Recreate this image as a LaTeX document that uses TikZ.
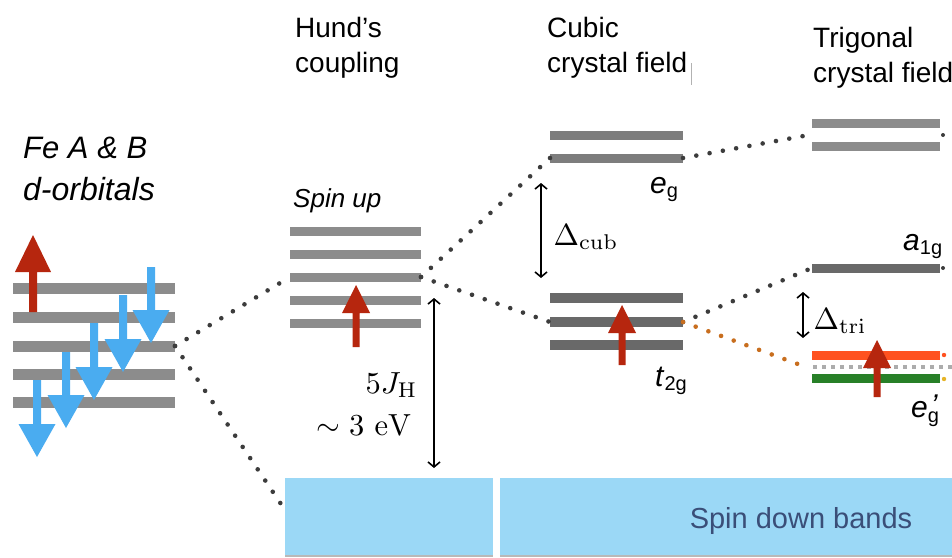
\documentclass[tikz,border=0pt]{standalone}
\usepackage[no-math]{fontspec}
\newfontfamily\hel{Liberation Sans}
\usetikzlibrary{arrows.meta}
\definecolor{barg}{RGB}{140,140,140}
\definecolor{barm}{RGB}{125,125,125}
\definecolor{bard}{RGB}{105,105,105}
\definecolor{spinred}{RGB}{182,38,14}
\definecolor{spinblue}{RGB}{74,172,240}
\definecolor{bandblue}{RGB}{155,216,246}
\definecolor{bandtext}{RGB}{58,78,120}
\definecolor{dotc}{RGB}{60,60,60}
\definecolor{dotorange}{RGB}{200,110,30}
\definecolor{egred}{RGB}{255,82,32}
\definecolor{eggreen}{RGB}{40,128,40}
\definecolor{dotyellow}{RGB}{230,180,40}
\newcommand{\blockarrow}[7]{%
  \fill[#7] (#1-#5/2,#2) -- (#1-#5/2,#3) -- (#1-#6/2,#3) -- (#1,#4) -- (#1+#6/2,#3) -- (#1+#5/2,#3) -- (#1+#5/2,#2) -- cycle;}
\begin{document}
\begin{tikzpicture}[x=1pt,y=-1pt,
  bar/.style={rectangle, inner sep=0pt, outer sep=0pt, minimum height=10pt, fill=barg},
  band/.style={rectangle, inner sep=0pt, outer sep=0pt, fill=bandblue, anchor=north west},
  dotline/.style={line width=4.6pt, line cap=round, dash pattern=on 0pt off 13.5pt, dotc},
  title/.style={font=\hel\fontsize{28}{30}\selectfont, inner sep=0pt, anchor=base west},
  lbl/.style={font=\hel\fontsize{30}{32}\selectfont, inner sep=0pt, anchor=base west},
  mlbl/.style={scale=3.05, inner sep=0pt},
  gap/.style={{Straight Barb[length=5pt,width=12pt,line width=1.6pt]}-{Straight Barb[length=5pt,width=12pt,line width=1.6pt]}, line width=1.6pt, black}]
\useasboundingbox (0,0) rectangle (952,557);
\fill[white] (0,0) rectangle (952,557);

% titles
\node[title, font=\hel\itshape\fontsize{31}{34}\selectfont] (fe) at (23,158) {Fe A \& B};
\node[title, font=\hel\itshape\fontsize{32}{34}\selectfont] (dorb) at (23,200) {d-orbitals};
\node[title] (hund1) at (295,37) {Hund’s};
\node[title] (hund2) at (295,72) {coupling};
\node[title] (cub1) at (547,37) {Cubic};
\node[title] (cub2) at (547,72) {crystal field};
\draw[gray!60, line width=0.8pt] (691,63) -- (691,85);
\node[title] (tri1) at (813,47) {Trigonal};
\node[title] (tri2) at (813,82) {crystal field};
\node[title, font=\hel\itshape\fontsize{26}{28}\selectfont] (spinup) at (293,207) {Spin up};

% spin down bands
\node[band, minimum width=208pt, minimum height=79pt] (bandL) at (285,478) {};
\node[band, minimum width=452pt, minimum height=79pt] (bandR) at (500,478) {};
\fill[gray!55] (285,555) rectangle (493,557);
\fill[gray!55] (500,555) rectangle (952,557);
\node[font=\hel\fontsize{29}{30}\selectfont, text=bandtext, inner sep=0pt, anchor=base] (sdb) at (801,528) {Spin down bands};

% left d-orbitals
\foreach \i/\y in {1/288,2/317,3/346,4/374,5/402}
  \node[bar, minimum width=162pt, minimum height=11pt] (L\i) at (94,\y) {};
\blockarrow{33}{312}{272}{235}{8}{36}{spinred}
\blockarrow{37}{380}{424}{457}{8}{37}{spinblue}
\blockarrow{66}{352}{395}{428}{8}{37}{spinblue}
\blockarrow{94}{323}{367}{400}{8}{37}{spinblue}
\blockarrow{123}{295}{339}{372}{8}{37}{spinblue}
\blockarrow{151}{267}{310}{343}{8}{37}{spinblue}

% Hund's
\foreach \i/\y in {1/231,2/254,3/277,4/300,5/323}
  \node[bar, minimum width=131pt, minimum height=9pt] (H\i) at (355.5,\y) {};
\blockarrow{356}{347}{313}{285}{7}{28}{spinred}

% cubic
\node[bar, fill=barm, minimum width=133pt, minimum height=9pt] (E1) at (616.5,135) {};
\node[bar, fill=barm, minimum width=133pt, minimum height=9pt] (E2) at (616.5,158) {};
\foreach \i/\y in {1/298,2/322,3/345}
  \node[bar, fill=bard, minimum width=133pt, minimum height=10pt] (T\i) at (616.5,\y) {};
\blockarrow{622}{365}{333}{305}{7}{28}{spinred}

% trigonal
\node[bar, minimum width=128pt, minimum height=9pt] (R1) at (876,123) {};
\node[bar, minimum width=128pt, minimum height=9pt] (R2) at (876,146) {};
\node[bar, fill=bard, minimum width=128pt, minimum height=9pt] (A) at (876,268) {};
\node[bar, fill=egred, minimum width=128pt, minimum height=9pt] (ER) at (876,355) {};
\node[bar, fill=eggreen, minimum width=128pt, minimum height=9pt] (EG) at (876,378) {};
\coordinate (emidL) at (806,367);
\coordinate (emidR) at (952,367);
\draw[gray!65, line width=3.5pt, dash pattern=on 4pt off 5pt] (813,367) -- (emidR);
\blockarrow{877}{397}{368}{340}{7}{28}{spinred}
\fill[dotc] (943,135) circle (2);
\fill[dotc] (943,268) circle (2);
\fill[egred] (944,355) circle (2.2);
\fill[dotyellow] (944,379) circle (2.2);

% connectors
\coordinate (bandin) at (285,510);
\coordinate (Rmid) at (809,135);
\draw[dotline] (L3.east) -- (H3.west);
\draw[dotline] (L3.east) -- (bandin);
\draw[dotline] (H3.east) -- (E2.west);
\draw[dotline] (H3.east) -- (T2.west);
\draw[dotline] (E2.east) -- (Rmid);
\draw[dotline] (T2.east) -- (A.west);
\draw[dotline, dotorange] (T2.east) -- (emidL);

% energy gaps
\coordinate (jtop) at (434,298);
\coordinate (jbot) at (434,468);
\draw[gap] (jtop) -- (jbot);
\coordinate (ctop) at (541,183);
\coordinate (cbot) at (541,278);
\draw[gap] (ctop) -- (cbot);
\coordinate (ttop) at (803,292);
\coordinate (tbot) at (803,338);
\draw[gap] (ttop) -- (tbot);

% math labels
\node[mlbl, anchor=base east] (jh) at (418,393) {$5J_{\mathrm{H}}$};
\node[mlbl, anchor=base east] (ev) at (412,435) {$\sim 3\ \mathrm{eV}$};
\node[mlbl, anchor=base west] (dcub) at (553,245) {$\Delta_{\mathrm{cub}}$};
\node[mlbl, anchor=base west] (dtri) at (813,329) {$\Delta_{\mathrm{tri}}$};

% orbital labels
\node[lbl] (eg) at (650,193) {\textit{e}\raisebox{-4pt}{\fontsize{20}{20}\selectfont g}};
\node[lbl] (t2g) at (655,386) {\textit{t}\raisebox{-4pt}{\fontsize{20}{20}\selectfont 2g}};
\node[lbl] (a1g) at (903,250) {\textit{a}\raisebox{-4pt}{\fontsize{20}{20}\selectfont 1g}};
\node[lbl] (epg) at (911,417) {\textit{e}\makebox[0pt][l]{\hspace{3pt}\raisebox{2pt}{\textit{’}}}\raisebox{-5pt}{\fontsize{20}{20}\selectfont g}};
\end{tikzpicture}
\end{document}
